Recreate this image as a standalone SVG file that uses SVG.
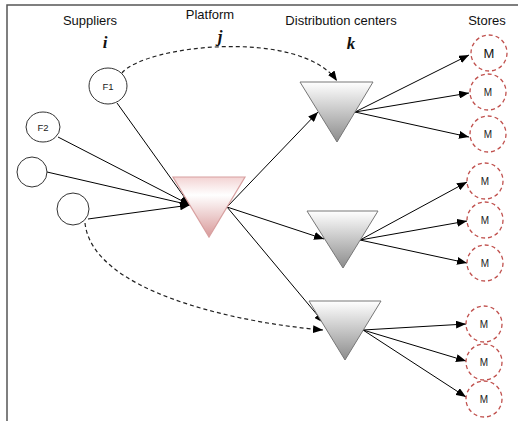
<svg xmlns="http://www.w3.org/2000/svg" width="518" height="421" viewBox="0 0 518 421">
<defs>
<style>
.lbl{font-family:"Liberation Sans",Arial,sans-serif;font-size:13px;fill:#111;text-anchor:middle}
.idx{font-family:"Liberation Serif","Times New Roman",serif;font-size:17px;font-style:italic;font-weight:bold;fill:#111;text-anchor:middle}
.sup{fill:#fff;stroke:#333;stroke-width:1}
.st{fill:#fff;stroke:#c0504d;stroke-width:1.3;stroke-dasharray:4,3}
.small{font-family:"Liberation Sans",Arial,sans-serif;font-size:9.5px;fill:#222;text-anchor:middle}
.mid{font-family:"Liberation Sans",Arial,sans-serif;font-size:10px;fill:#222;text-anchor:middle}
.sol{fill:none;stroke:#000;stroke-width:1;marker-end:url(#ah)}
.dash{fill:none;stroke:#222;stroke-width:1.2;stroke-dasharray:4,3;marker-end:url(#ah)}
.dc{fill:url(#gg);stroke:#777;stroke-width:1}
</style>
<linearGradient id="gg" x1="0" y1="0" x2="0" y2="1">
<stop offset="0" stop-color="#ffffff"/>
<stop offset="1" stop-color="#8c8c8c"/>
</linearGradient>
<linearGradient id="pg" x1="0" y1="0" x2="0" y2="1">
<stop offset="0" stop-color="#f3d3d3"/>
<stop offset="0.3" stop-color="#ffffff"/>
<stop offset="1" stop-color="#d99a9a"/>
</linearGradient>
<marker id="ah" markerUnits="userSpaceOnUse" markerWidth="10" markerHeight="8" refX="10" refY="4" orient="auto">
<path d="M0,0 L10,4 L0,8 z" fill="#000"/>
</marker>
</defs>
<rect width="518" height="421" fill="#fff"/>
<g id="frame">
<path d="M7,421 V5 H518" fill="none" stroke="#555" stroke-width="1.5"/>
</g>
<g id="headers">
<text class="lbl" x="90" y="25">Suppliers</text>
<text class="lbl" x="210" y="19">Platform</text>
<text class="lbl" x="341" y="25">Distribution centers</text>
<text class="lbl" x="487" y="25">Stores</text>
<text class="idx" x="105" y="48">i</text>
<text class="idx" x="220" y="42">j</text>
<text class="idx" x="351" y="49">k</text>
</g>
<g id="connectors">
<line class="sol" x1="117" y1="103" x2="190" y2="205"/>
<line class="sol" x1="58" y1="137" x2="190" y2="205"/>
<line class="sol" x1="47" y1="172" x2="190" y2="205"/>
<line class="sol" x1="88" y1="219" x2="190" y2="205"/>
<line class="sol" x1="227" y1="207" x2="318" y2="112"/>
<line class="sol" x1="227" y1="207" x2="324" y2="239"/>
<line class="sol" x1="227" y1="207" x2="324" y2="323"/>
<line class="sol" x1="355" y1="112" x2="469" y2="55"/>
<line class="sol" x1="355" y1="112" x2="469" y2="93"/>
<line class="sol" x1="355" y1="112" x2="469" y2="137"/>
<line class="sol" x1="360" y1="240" x2="467" y2="182"/>
<line class="sol" x1="360" y1="240" x2="467" y2="221"/>
<line class="sol" x1="360" y1="240" x2="467" y2="263"/>
<line class="sol" x1="363" y1="330" x2="466" y2="324"/>
<line class="sol" x1="363" y1="330" x2="466" y2="361"/>
<line class="sol" x1="363" y1="330" x2="466" y2="397"/>
<path class="dash" d="M122,73 C145,45 300,28 337,81"/>
<path class="dash" d="M85,223 C92,290 230,322 323,330"/>
</g>
<g id="supplier-F1"><ellipse class="sup" cx="108" cy="86" rx="19" ry="18"/><text class="small" x="108" y="89.5">F1</text></g>
<g id="supplier-F2"><ellipse class="sup" cx="43" cy="127" rx="17" ry="15"/><text class="small" x="43" y="130.5">F2</text></g>
<g id="supplier-3"><ellipse class="sup" cx="32" cy="172" rx="15" ry="15"/></g>
<g id="supplier-4"><ellipse class="sup" cx="73" cy="209" rx="16" ry="16"/></g>
<g id="platform"><path d="M173,177 H245 L209,237 Z" fill="url(#pg)" stroke="#d8a0a0" stroke-width="1.2"/></g>
<g id="dc1"><path class="dc" d="M300,82 H373 L337,142 Z"/></g>
<g id="dc2"><path class="dc" d="M307,211 H378 L343,268 Z"/></g>
<g id="dc3"><path class="dc" d="M309,301 H381 L345,360 Z"/></g>
<g id="store1"><circle class="st" cx="489" cy="53" r="18"/><text class="lbl" x="489" y="58">M</text></g>
<g id="store2"><circle class="st" cx="488" cy="92" r="18"/><text class="mid" x="488" y="96">M</text></g>
<g id="store3"><circle class="st" cx="488" cy="134" r="18"/><text class="mid" x="488" y="138">M</text></g>
<g id="store4"><circle class="st" cx="485" cy="181" r="18"/><text class="mid" x="485" y="185">M</text></g>
<g id="store5"><circle class="st" cx="485" cy="220" r="18"/><text class="mid" x="485" y="224">M</text></g>
<g id="store6"><circle class="st" cx="485" cy="263" r="18"/><text class="mid" x="485" y="267">M</text></g>
<g id="store7"><circle class="st" cx="484" cy="324" r="18"/><text class="mid" x="484" y="328">M</text></g>
<g id="store8"><circle class="st" cx="484" cy="362" r="18"/><text class="mid" x="484" y="366">M</text></g>
<g id="store9"><circle class="st" cx="484" cy="399" r="18"/><text class="mid" x="484" y="403">M</text></g>
</svg>
